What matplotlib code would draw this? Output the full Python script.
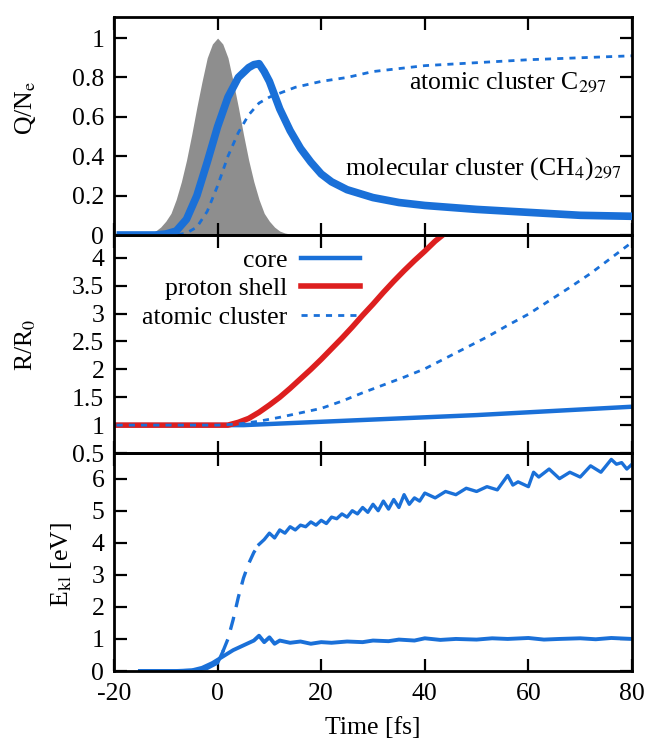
import matplotlib
matplotlib.use("Agg")
import matplotlib.pyplot as plt

plt.rcParams['font.family'] = ['Liberation Serif', 'DejaVu Serif']
plt.rcParams['mathtext.fontset'] = 'stix'
plt.rcParams['axes.unicode_minus'] = False
FS = 18.5

BLUE = '#1a70d8'
RED = '#dd1f1f'
GRAY = '#8e8e8e'

# ---------------- data ----------------
# top panel: laser pulse (gray)
pulse_t = [-14, -13, -12, -11, -10, -9, -8, -7, -6, -5, -4, -3, -2, -1, 0,
           1, 2, 3, 4, 5, 6, 7, 8, 9, 10, 11, 12, 13, 14]
pulse_v = [0.005, 0.01, 0.02, 0.04, 0.07, 0.11, 0.18, 0.27, 0.38, 0.51, 0.65, 0.78, 0.90, 0.97, 1.0,
           0.97, 0.90, 0.78, 0.65, 0.51, 0.38, 0.27, 0.18, 0.11, 0.07, 0.04, 0.02, 0.01, 0.005]

# top panel: molecular cluster charge
mol_t = [-19.5, -12, -10, -8, -6, -4, -2, 0, 2, 4, 6, 7, 8, 9, 10, 12, 14, 16, 18, 20,
         22, 25, 30, 35, 40, 50, 60, 70, 80]
mol_v = [0.0, 0.0, 0.005, 0.02, 0.08, 0.2, 0.37, 0.55, 0.7, 0.8, 0.85, 0.865, 0.87, 0.83, 0.78,
         0.64, 0.53, 0.44, 0.37, 0.31, 0.27, 0.23, 0.19, 0.165, 0.15, 0.13, 0.115, 0.10, 0.095]

# top panel: atomic cluster charge
atq_t = [-19.5, -8, -6, -4, -2, 0, 2, 4, 6, 8, 10, 12, 15, 20, 25, 30, 40, 50, 60, 70, 80]
atq_v = [0.0, 0.0, 0.01, 0.04, 0.12, 0.25, 0.4, 0.52, 0.61, 0.67, 0.7, 0.72, 0.75, 0.78, 0.8,
         0.83, 0.86, 0.875, 0.89, 0.90, 0.91]

# middle panel: radii
core_t = [-19.5, 0, 5, 10, 20, 30, 40, 50, 60, 70, 80]
core_v = [1.0, 1.0, 1.0, 1.02, 1.06, 1.1, 1.14, 1.18, 1.23, 1.28, 1.33]

shell_t = [-19.5, 0, 2, 4, 6, 8, 10, 12, 14, 16, 18, 20, 22, 24, 26, 28, 30, 32, 34, 36,
           38, 40, 42, 44]
shell_v = [1.0, 1.0, 1.0, 1.05, 1.12, 1.23, 1.36, 1.5, 1.66, 1.83, 2.0, 2.18, 2.37, 2.56, 2.76,
           2.97, 3.17, 3.38, 3.58, 3.77, 3.95, 4.12, 4.3, 4.45]

atr_t = [-19.5, 0, 4, 8, 12, 16, 20, 24, 28, 32, 36, 40, 44, 48, 52, 56, 60, 64, 68, 72, 76, 80]
atr_v = [1.0, 1.0, 1.02, 1.07, 1.14, 1.22, 1.3, 1.43, 1.58, 1.72, 1.86, 2.01, 2.2, 2.39, 2.58,
         2.79, 2.99, 3.23, 3.47, 3.72, 4.0, 4.28]

# bottom panel: energies
eup_t = [-15, -8, -4, -2, 0, 1]
eup_v = [0.0, 0.0, 0.03, 0.08, 0.25, 0.6]
erise_t = [1, 2, 3, 4, 5, 6, 7, 8]
erise_v = [0.6, 1.0, 1.6, 2.3, 2.9, 3.35, 3.7, 3.95]
ehi_t = [8, 9, 10, 11, 12, 13, 14, 15, 16, 17, 18, 19, 20, 21, 22, 23, 24, 25, 26, 27, 28, 29,
         30, 31, 32, 33, 34, 35, 36, 37, 38, 39, 40, 42, 44, 46, 48, 50, 52, 54, 56, 57, 58,
         60, 61, 62, 64, 66, 68, 70, 72, 74, 76, 77, 78, 79, 80]
ehi_v = [3.95, 4.1, 4.3, 4.15, 4.4, 4.3, 4.5, 4.4, 4.55, 4.5, 4.65, 4.55, 4.7, 4.6, 4.8, 4.75,
         4.9, 4.8, 5.0, 4.9, 5.1, 4.95, 5.2, 5.0, 5.3, 5.05, 5.35, 5.1, 5.5, 5.2, 5.4, 5.3, 5.55,
         5.4, 5.6, 5.5, 5.7, 5.6, 5.75, 5.65, 6.1, 5.8, 5.9, 5.75, 6.2, 6.05, 6.3, 6.0, 6.2,
         6.05, 6.4, 6.2, 6.6, 6.45, 6.5, 6.3, 6.45]
elo_t = [-15, -8, -5, -3, -1, 1, 3, 5, 7, 8, 9, 10, 11, 12, 14, 16, 18, 20, 22, 25, 28, 30,
         33, 35, 38, 40, 43, 46, 50, 53, 56, 60, 63, 66, 70, 73, 76, 80]
elo_v = [0.0, 0.0, 0.02, 0.1, 0.25, 0.45, 0.65, 0.8, 0.95, 1.1, 0.9, 1.05, 0.85, 0.95, 0.88,
         0.92, 0.85, 0.9, 0.88, 0.92, 0.9, 0.95, 0.93, 0.98, 0.95, 1.02, 0.97, 1.0, 0.98, 1.02,
         1.0, 1.03, 0.98, 1.0, 1.02, 0.99, 1.03, 1.0]

xticks = [-20, 0, 20, 40, 60, 80]
top_yticks = [0, 0.2, 0.4, 0.6, 0.8, 1]
top_ylabels = ['0', '0.2', '0.4', '0.6', '0.8', '1']
mid_yticks = [0.5, 1, 1.5, 2, 2.5, 3, 3.5, 4]
mid_ylabels = ['0.5', '1', '1.5', '2', '2.5', '3', '3.5', '4']
bot_yticks = [0, 1, 2, 3, 4, 5, 6]
bot_ylabels = ['0', '1', '2', '3', '4', '5', '6']

# ---------------- figure ----------------
fig = plt.figure(figsize=(6.65, 7.55), dpi=100)
W, H = 665.0, 755.0
left, right, top, bottom = 114, 632, 17, 671
ph = (bottom - top) / 3.0
axes = [fig.add_axes([left / W, 1 - (top + (k + 1) * ph) / H, (right - left) / W, ph / H])
        for k in range(3)]
ax1, ax2, ax3 = axes

for ax in axes:
    ax.set_xlim(-20, 80)
    ax.set_xticks(xticks)
    ax.tick_params(direction='in', length=9, width=1.6, top=True, right=True,
                   labelsize=FS, pad=7)
    ax.tick_params(axis='x', pad=9)
    for s in ax.spines.values():
        s.set_linewidth(2.0)
    ax.set_facecolor('none')

ax1.tick_params(labelbottom=False)
ax2.tick_params(labelbottom=False)

# top
ax1.fill_between(pulse_t, 0, pulse_v, color=GRAY, lw=0, zorder=1)
ax1.plot(mol_t, mol_v, color=BLUE, lw=5.5, zorder=3, solid_capstyle='butt')
ax1.plot(atq_t, atq_v, color=BLUE, lw=2, dashes=(2.2, 2.2), zorder=2)
ax1.set_ylim(0, 1.107)
ax1.set_yticks(top_yticks)
ax1.set_yticklabels(top_ylabels)
ax1.text(75.0, 0.775, 'atomic cluster C$_{297}$', fontsize=FS, ha='right', va='center')
ax1.text(78.0, 0.335, 'molecular cluster (CH$_4$)$_{297}$', fontsize=FS, ha='right',
         va='center')

# middle
l1, = ax2.plot(core_t, core_v, color=BLUE, lw=3.2, label='core')
l2, = ax2.plot(shell_t, shell_v, color=RED, lw=4, label='proton shell')
l3, = ax2.plot(atr_t, atr_v, color=BLUE, lw=2, dashes=(2.2, 2.2), label='atomic cluster')
ax2.set_ylim(0.5, 4.41)
ax2.set_yticks(mid_yticks)
ax2.set_yticklabels(mid_ylabels)
leg = ax2.legend(handles=[l1, l2, l3], loc='upper left', bbox_to_anchor=(0.035, 0.985),
                 frameon=False, markerfirst=False, fontsize=FS, handlelength=2.3,
                 handletextpad=0.5, labelspacing=0.22, borderaxespad=0.0)

# bottom
ax3.plot(eup_t, eup_v, color=BLUE, lw=2.4)
ax3.plot(erise_t, erise_v, color=BLUE, lw=2.4, dashes=(4, 3))
ax3.plot(ehi_t, ehi_v, color=BLUE, lw=2.4)
ax3.plot(elo_t, elo_v, color=BLUE, lw=2.8)
ax3.set_ylim(0, 6.8)
ax3.set_yticks(bot_yticks)
ax3.set_yticklabels(bot_ylabels)
ax3.set_xlabel('Time [fs]', fontsize=FS, labelpad=8)

fig.text(26 / W, 1 - 108 / H, 'Q/N$_\\mathrm{e}$', rotation=90, fontsize=FS, ha='center',
         va='center')
fig.text(26 / W, 1 - 345 / H, 'R/R$_0$', rotation=90, fontsize=FS, ha='center', va='center')
fig.text(62 / W, 1 - 564 / H, 'E$_{\\rm kl}$ [eV]', rotation=90, fontsize=FS, ha='center',
         va='center')

fig.savefig('out.png', dpi=100)
